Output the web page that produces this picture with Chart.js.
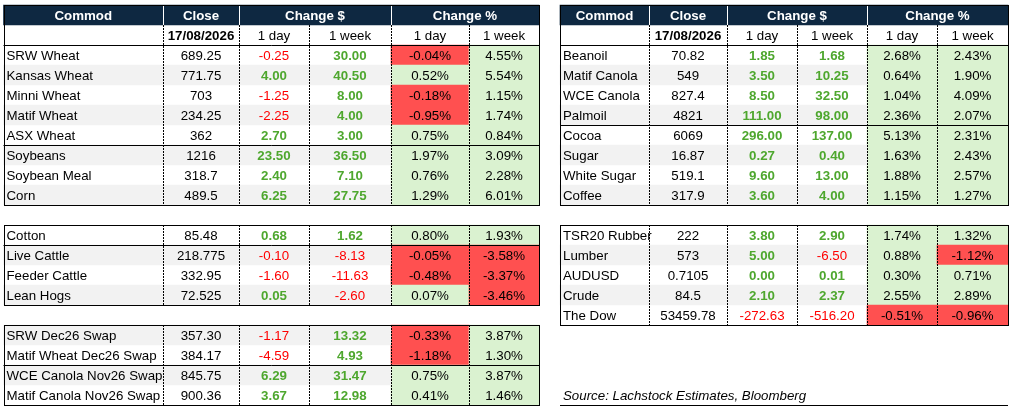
<!DOCTYPE html>
<html>
<head>
<meta charset="utf-8">
<script src="https://cdn.jsdelivr.net/npm/chart.js@4.4.1/dist/chart.umd.min.js"></script>
<style>
html,body{margin:0;padding:0;background:#ffffff;}
#wrap{width:1012px;height:413px;position:relative;}
</style>
</head>
<body>
<div id="wrap"><canvas id="c"></canvas></div>
<script>
// ---------------- DATA ----------------
const headerLabels = ['Commod', 'Close', 'Change $', 'Change %'];
const subLabels = ['17/08/2026', '1 day', '1 week', '1 day', '1 week'];
const sourceText = 'Source: Lachstock Estimates, Bloomberg';

// Grains (left top)
const grainNames = ['SRW Wheat', 'Kansas Wheat', 'Minni Wheat', 'Matif Wheat', 'ASX Wheat', 'Soybeans', 'Soybean Meal', 'Corn'];
const grainClose = [689.25, 771.75, 703, 234.25, 362, 1216, 318.7, 489.5];
const grainChg1d = [-0.25, 4.00, -1.25, -2.25, 2.70, 23.50, 2.40, 6.25];
const grainChg1w = [30.00, 40.50, 8.00, 4.00, 3.00, 36.50, 7.10, 27.75];
const grainPct1d = [-0.04, 0.52, -0.18, -0.95, 0.75, 1.97, 0.76, 1.29];
const grainPct1w = [4.55, 5.54, 1.15, 1.74, 0.84, 3.09, 2.28, 6.01];

// Softs / livestock (left middle)
const liveNames = ['Cotton', 'Live Cattle', 'Feeder Cattle', 'Lean Hogs'];
const liveClose = [85.48, 218.775, 332.95, 72.525];
const liveChg1d = [0.68, -0.10, -1.60, 0.05];
const liveChg1w = [1.62, -8.13, -11.63, -2.60];
const livePct1d = [0.80, -0.05, -0.48, 0.07];
const livePct1w = [1.93, -3.58, -3.37, -3.46];

// Swaps (left bottom)
const swapNames = ['SRW Dec26 Swap', 'Matif Wheat Dec26 Swap', 'WCE Canola Nov26 Swap', 'Matif Canola Nov26 Swap'];
const swapClose = [357.30, 384.17, 845.75, 900.36];
const swapChg1d = [-1.17, -4.59, 6.29, 3.67];
const swapChg1w = [13.32, 4.93, 31.47, 12.98];
const swapPct1d = [-0.33, -1.18, 0.75, 0.41];
const swapPct1w = [3.87, 1.30, 3.87, 1.46];

// Oils / softs (right top)
const oilNames = ['Beanoil', 'Matif Canola', 'WCE Canola', 'Palmoil', 'Cocoa', 'Sugar', 'White Sugar', 'Coffee'];
const oilClose = [70.82, 549, 827.4, 4821, 6069, 16.87, 519.1, 317.9];
const oilChg1d = [1.85, 3.50, 8.50, 111.00, 296.00, 0.27, 9.60, 3.60];
const oilChg1w = [1.68, 10.25, 32.50, 98.00, 137.00, 0.40, 13.00, 4.00];
const oilPct1d = [2.68, 0.64, 1.04, 2.36, 5.13, 1.63, 1.88, 1.15];
const oilPct1w = [2.43, 1.90, 4.09, 2.07, 2.31, 2.43, 2.57, 1.27];

// Other markets (right bottom)
const otherNames = ['TSR20 Rubber', 'Lumber', 'AUDUSD', 'Crude', 'The Dow'];
const otherClose = [222, 573, 0.7105, 84.5, 53459.78];
const otherChg1d = [3.80, 5.00, 0.00, 2.10, -272.63];
const otherChg1w = [2.90, -6.50, 0.01, 2.37, -516.20];
const otherPct1d = [1.74, 0.88, 0.30, 2.55, -0.51];
const otherPct1w = [1.32, -1.12, 0.71, 2.89, -0.96];

// ---------------- LAYOUT / STYLE ----------------
const LEFT_COLS = [3.5, 163, 239, 309, 391, 469, 539];
const RIGHT_COLS = [560, 649, 727, 797, 867, 937, 1008];
const FONT = '"Liberation Sans", Arial, sans-serif';
const FS = 13.3;
const C = {
  navy: '#0e2841', band: '#f2f2f2', up: '#daf2d0', down: '#ff5050',
  txtUp: '#4ea72e', txtDown: '#ff0000', text: '#000000'
};

const blocks = [
  {cols: LEFT_COLS, row0: 2, header: true, sep: 5, bandEven: false, fixedClose: false,
   names: grainNames, close: grainClose, d1: grainChg1d, w1: grainChg1w, p1: grainPct1d, pw: grainPct1w},
  {cols: RIGHT_COLS, row0: 2, header: true, sep: 4, bandEven: false, fixedClose: false,
   names: oilNames, close: oilClose, d1: oilChg1d, w1: oilChg1w, p1: oilPct1d, pw: oilPct1w},
  {cols: LEFT_COLS, row0: 11, header: false, sep: 1, bandEven: false, fixedClose: false,
   names: liveNames, close: liveClose, d1: liveChg1d, w1: liveChg1w, p1: livePct1d, pw: livePct1w},
  {cols: LEFT_COLS, row0: 16, header: false, sep: 2, bandEven: true, fixedClose: true,
   names: swapNames, close: swapClose, d1: swapChg1d, w1: swapChg1w, p1: swapPct1d, pw: swapPct1w},
  {cols: RIGHT_COLS, row0: 11, header: false, sep: null, bandEven: false, fixedClose: false,
   names: otherNames, close: otherClose, d1: otherChg1d, w1: otherChg1w, p1: otherPct1d, pw: otherPct1w}
];
const SOURCE_ROW = 19;

// ---------------- CELL FILLS (floating bars) ----------------
const headerCells = [], headerColors = [];
const bandCells = [], bandColors = [];
const pctCells = [], pctColors = [];
blocks.forEach(b => {
  const c = b.cols;
  if (b.header) {
    headerCells.push({x: [c[0], c[6]], y: b.row0 - 2 + 0.5});
    headerColors.push(C.navy);
  }
  b.names.forEach((n, i) => {
    const r = b.row0 + i + 0.5;
    const gray = b.bandEven ? (i % 2 === 0) : (i % 2 === 1);
    if (gray) { bandCells.push({x: [c[0], c[4]], y: r}); bandColors.push(C.band); }
    pctCells.push({x: [c[4], c[5]], y: r}); pctColors.push(b.p1[i] < 0 ? C.down : C.up);
    pctCells.push({x: [c[5], c[6]], y: r}); pctColors.push(b.pw[i] < 0 ? C.down : C.up);
  });
});

const fmt2 = v => v.toFixed(2);

const tablePlugin = {
  id: 'tableText',
  afterDatasetsDraw(chart) {
    const {ctx, scales: {x, y}} = chart;
    const px = v => x.getPixelForValue(v);
    const py = v => y.getPixelForValue(v);
    const lx = v => Math.round(px(v)) + 0.5;
    const ly = v => Math.round(py(v)) + 0.5;
    ctx.save();
    const text = (s, xv, row, align, color, bold, italic) => {
      ctx.font = (italic ? 'italic ' : '') + (bold ? 'bold ' : '') + FS + 'px ' + FONT;
      ctx.fillStyle = color;
      ctx.textAlign = align;
      ctx.textBaseline = 'middle';
      ctx.fillText(s, px(xv), py(row + 0.5) + 1);
    };
    const line = (x0, y0, x1, y1, color, dash) => {
      ctx.beginPath();
      ctx.setLineDash(dash || []);
      ctx.strokeStyle = color;
      ctx.lineWidth = 1;
      ctx.moveTo(x0, y0); ctx.lineTo(x1, y1);
      ctx.stroke();
    };
    blocks.forEach(b => {
      const c = b.cols;
      const mid = (a, z) => (c[a] + c[z]) / 2;
      const top = b.header ? b.row0 - 2 : b.row0;
      const bottom = b.row0 + b.names.length;
      const dashTop = b.header ? b.row0 - 1 : b.row0;
      // dashed verticals
      for (let k = 1; k <= 5; k++) line(lx(c[k]), py(dashTop), lx(c[k]), py(bottom), '#000', [2, 1]);
      if (b.header) {
        const hr = b.row0 - 2;
        [1, 2, 4].forEach(k => line(lx(c[k]), py(hr), lx(c[k]), py(hr + 1), '#ffffff'));
        text(headerLabels[0], mid(0, 1), hr, 'center', '#fff', true);
        text(headerLabels[1], mid(1, 2), hr, 'center', '#fff', true);
        text(headerLabels[2], mid(2, 4), hr, 'center', '#fff', true);
        text(headerLabels[3], mid(4, 6), hr, 'center', '#fff', true);
        const sr = b.row0 - 1;
        text(subLabels[0], mid(1, 2), sr, 'center', C.text, true);
        for (let k = 1; k <= 4; k++) text(subLabels[k], mid(k + 1, k + 2), sr, 'center', C.text, false);
        line(px(c[0]), ly(b.row0), px(c[6]), ly(b.row0), '#000');
      }
      if (b.sep) line(px(c[0]), ly(b.row0 + b.sep), px(c[6]), ly(b.row0 + b.sep), '#000');
      // outer border
      ctx.setLineDash([]);
      ctx.strokeStyle = '#000';
      ctx.lineWidth = 1;
      ctx.strokeRect(lx(c[0]), ly(top), lx(c[6]) - lx(c[0]), ly(bottom) - ly(top));
      // rows
      b.names.forEach((n, i) => {
        const r = b.row0 + i;
        text(n, c[0] + 3, r, 'left', C.text, false);
        text(b.fixedClose ? fmt2(b.close[i]) : String(b.close[i]), mid(1, 2), r, 'center', C.text, false);
        const d = b.d1[i], w = b.w1[i];
        text(fmt2(d), mid(2, 3), r, 'center', d < 0 ? C.txtDown : C.txtUp, d >= 0);
        text(fmt2(w), mid(3, 4), r, 'center', w < 0 ? C.txtDown : C.txtUp, w >= 0);
        text(fmt2(b.p1[i]) + '%', mid(4, 5), r, 'center', C.text, false);
        text(fmt2(b.pw[i]) + '%', mid(5, 6), r, 'center', C.text, false);
      });
    });
    // source note
    text(sourceText, RIGHT_COLS[0] + 3, SOURCE_ROW, 'left', C.text, false, true);
    line(px(RIGHT_COLS[0]), ly(SOURCE_ROW + 1), px(RIGHT_COLS[6]), ly(SOURCE_ROW + 1), '#000');
    ctx.restore();
  }
};

const barOpts = {grouped: false, borderWidth: 0, barPercentage: 1, categoryPercentage: 1};
new Chart(document.getElementById('c'), {
  type: 'bar',
  data: {
    datasets: [
      Object.assign({label: 'header', data: headerCells, backgroundColor: headerColors}, barOpts),
      Object.assign({label: 'bands', data: bandCells, backgroundColor: bandColors}, barOpts),
      Object.assign({label: 'pct', data: pctCells, backgroundColor: pctColors}, barOpts)
    ]
  },
  options: {
    indexAxis: 'y',
    responsive: true,
    maintainAspectRatio: false,
    animation: false,
    events: [],
    layout: {padding: 0},
    scales: {
      x: {type: 'linear', min: 0, max: 1012, display: false, offset: false},
      y: {type: 'linear', min: -0.25, max: 20.4, reverse: true, display: false, offset: false,
          ticks: {stepSize: 1, includeBounds: false}}
    },
    plugins: {legend: {display: false}, tooltip: {enabled: false}, title: {display: false}}
  },
  plugins: [tablePlugin]
});
</script>
</body>
</html>
